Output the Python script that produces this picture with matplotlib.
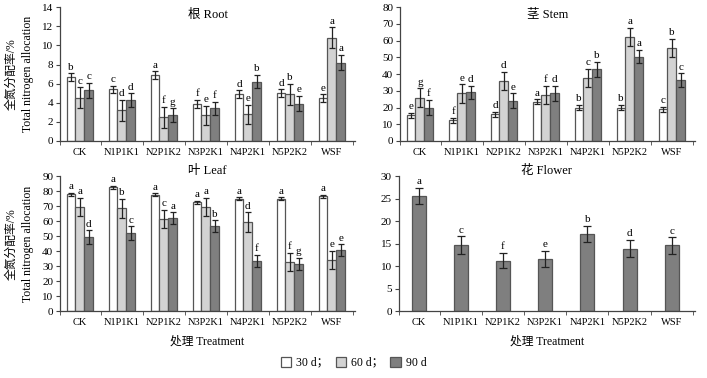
import numpy as np
import matplotlib
matplotlib.use("Agg")
import matplotlib.pyplot as plt
from matplotlib.patches import Patch

plt.rcParams['font.family'] = ['Liberation Serif', 'Noto Sans CJK SC']
plt.rcParams['font.size'] = 8

treatments = ['CK', 'N1P1K1', 'N2P1K2', 'N3P2K1', 'N4P2K1', 'N5P2K2', 'WSF']
days = ['30 d', '60 d', '90 d']

# 根 Root
root_mean = [[6.7, 5.4, 6.9, 3.9, 4.9, 5.0, 4.5],
             [4.5, 3.2, 2.5, 2.7, 2.8, 4.9, 10.8],
             [5.3, 4.3, 2.7, 3.4, 6.2, 3.9, 8.2]]
root_err = [[0.4, 0.4, 0.4, 0.4, 0.4, 0.4, 0.4],
            [1.1, 1.1, 1.1, 1.0, 1.0, 1.1, 1.1],
            [0.8, 0.7, 0.7, 0.7, 0.7, 0.8, 0.8]]
root_sig = [['b', 'c', 'a', 'f', 'd', 'd', 'e'],
            ['c', 'd', 'f', 'e', 'e', 'b', 'a'],
            ['c', 'd', 'g', 'f', 'b', 'e', 'a']]

# 茎 Stem
stem_mean = [[15.5, 12.5, 16.0, 23.5, 20.0, 20.0, 19.0],
             [26.0, 28.5, 36.0, 27.5, 37.5, 62.0, 55.5],
             [20.0, 29.0, 24.0, 28.5, 43.0, 50.5, 36.5]]
stem_err = [[1.5, 1.5, 1.5, 1.5, 1.5, 1.5, 1.5],
            [5.5, 5.5, 5.5, 5.5, 5.5, 5.5, 5.5],
            [4.5, 4.0, 4.5, 4.5, 4.5, 4.0, 4.0]]
stem_sig = [['e', 'f', 'd', 'a', 'b', 'b', 'c'],
            ['g', 'e', 'd', 'f', 'c', 'a', 'b'],
            ['f', 'd', 'e', 'd', 'b', 'a', 'c']]

# 叶 Leaf
leaf_mean = [[78.0, 82.5, 77.5, 72.5, 75.0, 75.0, 76.5],
             [69.5, 68.5, 61.5, 69.5, 59.5, 33.0, 34.0],
             [49.5, 52.0, 62.0, 56.5, 33.5, 31.5, 40.5]]
leaf_err = [[1.0, 1.0, 1.0, 1.0, 1.0, 1.0, 1.0],
            [6.0, 6.5, 6.0, 6.0, 6.5, 6.0, 6.0],
            [4.5, 4.5, 4.0, 4.0, 4.0, 4.0, 4.0]]
leaf_sig = [['a', 'a', 'a', 'a', 'a', 'a', 'a'],
            ['a', 'b', 'c', 'a', 'd', 'f', 'e'],
            ['d', 'c', 'a', 'b', 'f', 'g', 'e']]

# 花 Flower (90 d only)
flower_mean = [25.5, 14.6, 11.2, 11.6, 17.2, 13.9, 14.6]
flower_err = [1.8, 2.0, 1.7, 1.8, 1.8, 1.9, 1.8]
flower_sig = ['a', 'c', 'f', 'e', 'b', 'd', 'c']

colors = ['white', '#d3d3d3', '#7f7f7f']
edge = '#555555'
axc = '#444444'


def style_axes(ax, ymax, ystep):
    ax.set_ylim(0, ymax)
    ax.set_yticks(np.arange(0, ymax + 0.1, ystep))
    ax.set_xlim(-0.47, 6.55)
    ax.set_xticks(np.arange(7))
    ax.set_xticklabels(treatments)
    ax.tick_params(axis='x', length=0, pad=5, labelsize=7.5)
    ax.set_xticks([-0.47] + list(np.arange(0.5, 6.6, 1.0)), minor=True)
    ax.tick_params(axis='x', which='minor', length=3, direction='out', color=axc)
    ax.tick_params(axis='y', length=3, direction='out', color=axc, labelsize=8, pad=2)
    for s in ['top', 'right']:
        ax.spines[s].set_visible(False)
    for s in ['left', 'bottom']:
        ax.spines[s].set_color(axc)
        ax.spines[s].set_linewidth(0.9)


def grouped(ax, means, errs, sigs, ymax, title, ty):
    x = np.arange(len(treatments))
    w = 0.21
    off = ymax * 0.012
    for i in range(3):
        xi = x + (i - 1) * w
        ax.bar(xi, means[i], w, color=colors[i], edgecolor=edge, linewidth=0.9,
               yerr=errs[i], error_kw=dict(ecolor='#222222', elinewidth=0.9, capsize=2.5, capthick=0.9))
        for xx, m, e, s in zip(xi, means[i], errs[i], sigs[i]):
            ax.text(xx, m + e + off, s, ha='center', va='bottom', fontsize=8)
    ax.set_title(title, fontsize=9, y=ty)


fig = plt.figure(figsize=(7.07, 3.78), dpi=100)
ax1 = fig.add_axes([0.085, 0.627, 0.417, 0.354])
ax2 = fig.add_axes([0.566, 0.627, 0.417, 0.354])
ax3 = fig.add_axes([0.085, 0.177, 0.417, 0.357])
ax4 = fig.add_axes([0.564, 0.177, 0.419, 0.357])

grouped(ax1, root_mean, root_err, root_sig, 14, '根 Root', 0.86)
style_axes(ax1, 14, 2)
grouped(ax2, stem_mean, stem_err, stem_sig, 80, '茎 Stem', 0.86)
style_axes(ax2, 80, 10)
grouped(ax3, leaf_mean, leaf_err, leaf_sig, 90, '叶 Leaf', 0.955)
style_axes(ax3, 90, 10)

x = np.arange(len(treatments))
ax4.bar(x, flower_mean, 0.33, color=colors[2], edgecolor=edge, linewidth=0.9,
        yerr=flower_err, error_kw=dict(ecolor='#222222', elinewidth=0.9, capsize=3, capthick=0.9))
for xx, m, e, s in zip(x, flower_mean, flower_err, flower_sig):
    ax4.text(xx, m + e + 0.4, s, ha='center', va='bottom', fontsize=8)
ax4.set_title('花 Flower', fontsize=9, y=0.955)
style_axes(ax4, 30, 5)

# y labels
for yc in [0.804, 0.355]:
    fig.text(0.016, yc, '全氮分配率/%', rotation=90, ha='center', va='center', fontsize=8.5)
    fig.text(0.039, yc, 'Total nitrogen allocation', rotation=90, ha='center', va='center', fontsize=8.5)

fig.text(0.293, 0.095, '处理 Treatment', ha='center', va='center', fontsize=8.5)
fig.text(0.774, 0.095, '处理 Treatment', ha='center', va='center', fontsize=8.5)

handles = [Patch(facecolor=colors[i], edgecolor=edge, linewidth=0.9) for i in range(3)]
labels = ['30 d；', '60 d；', '90 d']
fig.legend(handles, labels, loc='center', bbox_to_anchor=(0.5, 0.04), ncol=3, frameon=False,
           fontsize=8.5, handlelength=0.9, handleheight=0.9, handletextpad=0.4, columnspacing=0.6)

fig.savefig('out.png', dpi=100)
